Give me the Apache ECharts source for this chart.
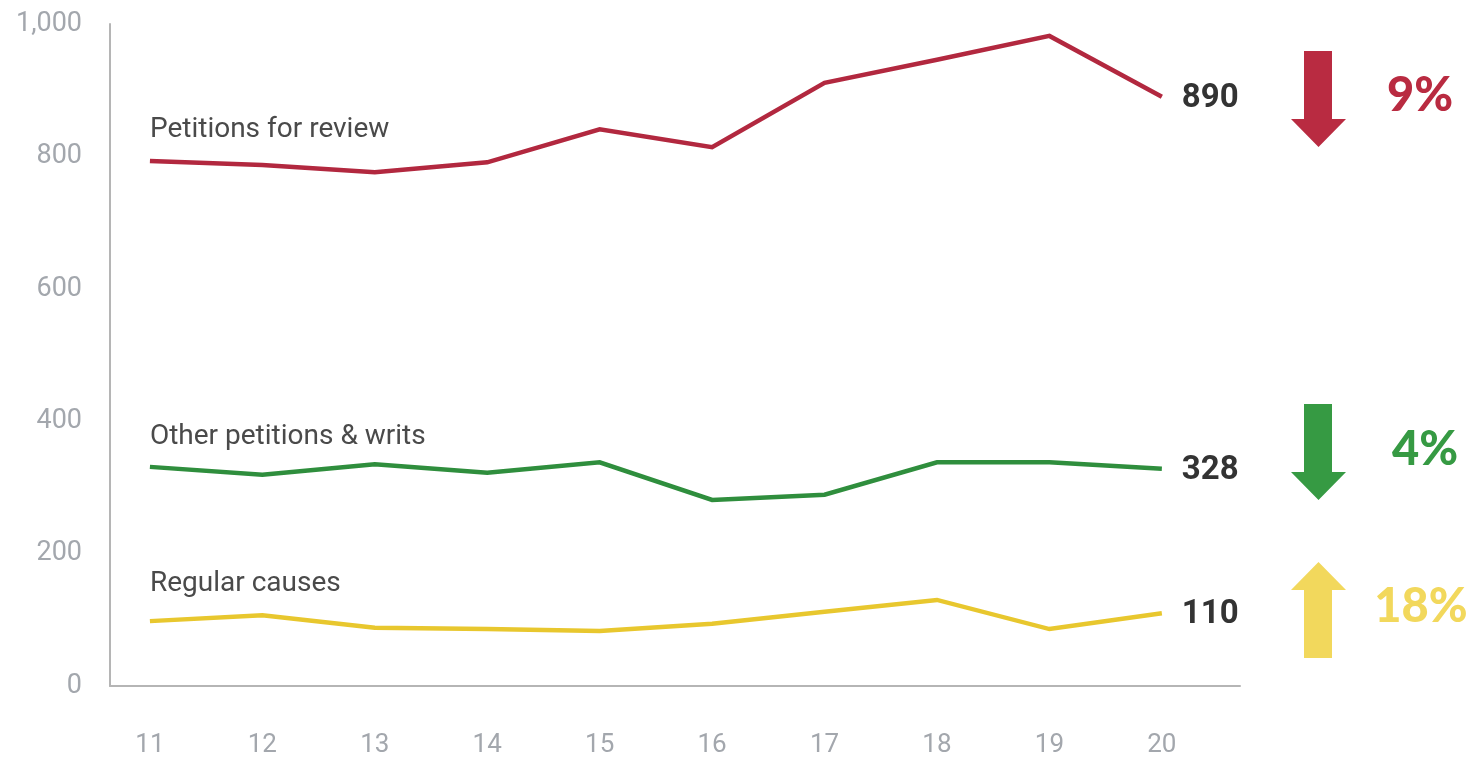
<!DOCTYPE html>
<html>
<head>
<meta charset="utf-8">
<script src="https://cdn.jsdelivr.net/npm/echarts@6/dist/echarts.min.js"></script>
<style>
  html, body { margin: 0; padding: 0; background: #fff; }
  #chart { width: 1473px; height: 765px; }
</style>
</head>
<body>
<div id="chart"></div>
<script>
// Fiscal years (two-digit) on the horizontal axis
const years = [11, 12, 13, 14, 15, 16, 17, 18, 19, 20];

// Filings per year by type
const petitionsForReview = [793, 787, 776, 791, 841, 814, 911, 946, 982, 890];
const otherPetitionsWrits = [331, 319, 335, 322, 338, 281, 289, 338, 338, 328];
const regularCauses = [98, 107, 88, 86, 83, 94, 112, 130, 86, 110];

// Series names
const seriesNames = ['Petitions for review', 'Other petitions & writs', 'Regular causes'];

// Change from previous year, in percent (sign gives direction)
const yearChange = [-9, -4, 18];

// Value-axis ticks
const yTicks = [0, 200, 400, 600, 800, 1000];

const lineColors = ['#B2283F', '#2F8E3D', '#E8C72E'];
const arrowColors = ['#B92B41', '#369A43', '#F2D85C'];
const nameOffsets = [-31, -30, -37];

const chart = echarts.init(document.getElementById('chart'));

function makeSeries(name, values, idx) {
  return {
    name: name,
    type: 'line',
    data: years.map((y, i) => [y, values[i]]),
    showSymbol: false,
    symbol: 'none',
    lineStyle: { color: lineColors[idx], width: 4.5, join: 'miter' },
    itemStyle: { color: lineColors[idx] },
    silent: true,
    endLabel: {
      show: true,
      formatter: p => String(p.value[1]),
      distance: 20,
      offset: [0, 2],
      fontFamily: 'Roboto',
      fontWeight: 'bold',
      fontSize: 33,
      color: '#333'
    },
    markPoint: {
      symbol: 'circle',
      symbolSize: 0,
      silent: true,
      data: [{
        coord: [years[0], values[0]],
        label: {
          show: true,
          formatter: name,
          position: [0, nameOffsets[idx]],
          align: 'left',
          verticalAlign: 'middle',
          fontFamily: 'Roboto',
          fontSize: 28,
          color: '#4a4a4a'
        }
      }]
    }
  };
}

const option = {
  animation: false,
  backgroundColor: '#fff',
  grid: { left: 110, right: 233, top: 24, bottom: 79, containLabel: false },
  xAxis: {
    type: 'value',
    min: 10.645,
    max: 20.695,
    axisLine: { show: true, lineStyle: { color: '#b5b5b5', width: 2 } },
    axisTick: { show: false },
    splitLine: { show: false },
    axisLabel: {
      customValues: years,
      margin: 46,
      fontFamily: 'Roboto',
      fontSize: 26,
      color: '#a3a7ad',
      formatter: v => String(v)
    }
  },
  yAxis: {
    type: 'value',
    min: 0,
    max: 1000,
    interval: 200,
    axisLine: { show: true, lineStyle: { color: '#b5b5b5', width: 2 } },
    axisTick: { show: false },
    splitLine: { show: false },
    axisLabel: {
      customValues: yTicks,
      margin: 28,
      fontFamily: 'Roboto',
      fontSize: 27,
      color: '#a3a7ad',
      formatter: v => v.toLocaleString('en-US')
    }
  },
  series: [
    makeSeries(seriesNames[0], petitionsForReview, 0),
    makeSeries(seriesNames[1], otherPetitionsWrits, 1),
    makeSeries(seriesNames[2], regularCauses, 2)
  ]
};

chart.setOption(option);

// Direction arrows and percentage change, beside each series' last value
const arrowTops = [51, 404, 562];
const arrowLength = 96;
const textCenters = [[1420, 96], [1425, 450], [1421, 607]];
const graphics = [];
yearChange.forEach((chg, i) => {
  const top = arrowTops[i];
  const bottom = top + arrowLength;
  const sl = 1304, sr = 1332, hl = 1291, hr = 1346, cx = 1318.5;
  const headLen = 28;
  let pts;
  if (chg < 0) {
    const hy = bottom - headLen;
    pts = [[sl, top], [sr, top], [sr, hy], [hr, hy], [cx, bottom], [hl, hy], [sl, hy]];
  } else {
    const hy = top + headLen;
    pts = [[cx, top], [hr, hy], [sr, hy], [sr, bottom], [sl, bottom], [sl, hy], [hl, hy]];
  }
  graphics.push({
    type: 'polygon',
    shape: { points: pts },
    style: { fill: arrowColors[i] },
    silent: true
  });
  graphics.push({
    type: 'text',
    x: textCenters[i][0],
    y: textCenters[i][1],
    style: {
      text: Math.abs(chg) + '%',
      fill: arrowColors[i],
      font: '900 47px Lato',
      align: 'center',
      verticalAlign: 'middle'
    },
    silent: true
  });
});
chart.setOption({ graphic: graphics });
</script>
</body>
</html>
